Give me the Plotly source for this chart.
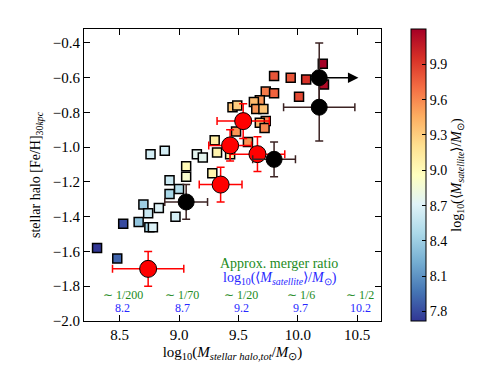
import plotly.graph_objects as go

# individual haloes (squares), coloured by satellite mass
sq_x = [10.21, 10.22, 9.80, 9.94, 10.07, 10.01, 9.73, 9.80, 9.68, 9.63, 9.65, 9.71, 9.73, 9.68,
        9.72, 9.58, 9.45, 9.49, 9.48, 9.30, 9.32, 9.43, 9.15, 9.20, 9.06, 9.06, 9.28, 8.76,
        8.88, 8.92, 9.00, 8.92, 8.70, 8.74, 8.83, 8.97, 8.66, 8.75, 8.78, 8.53, 8.31, 8.48]
sq_y = [-0.52, -0.64, -0.59, -0.60, -0.61, -0.71, -0.68, -0.69, -0.73, -0.74, -0.78, -0.78, -0.85, -0.86,
        -0.89, -0.97, -0.77, -0.76, -0.91, -0.96, -1.03, -1.04, -1.04, -1.06, -1.11, -1.17, -1.15, -1.04,
        -1.02, -1.19, -1.24, -1.27, -1.33, -1.38, -1.35, -1.40, -1.43, -1.46, -1.46, -1.44, -1.58, -1.64]
sq_c = [10.20, 10.15, 9.80, 9.80, 9.95, 9.85, 9.65, 9.75, 9.55, 9.40, 9.55, 9.35, 9.60, 9.40,
        9.60, 9.55, 9.35, 9.30, 9.55, 9.10, 9.05, 9.10, 8.75, 8.75, 9.00, 8.90, 9.05, 8.65,
        8.65, 8.60, 8.50, 8.45, 8.40, 8.60, 8.70, 8.65, 8.35, 8.45, 8.70, 7.80, 7.72, 7.90]

# red points with errors
red_x = [9.54, 9.43, 9.66, 9.35, 8.74]
red_y = [-0.85, -0.99, -1.04, -1.215, -1.70]
red_xerr = [0.22, 0.18, 0.23, 0.18, 0.30]
red_yerr = [0.10, 0.09, 0.10, 0.10, 0.10]

# black points with errors
blk_x = [10.18, 10.18, 9.80, 9.06]
blk_y = [-0.60, -0.77, -1.07, -1.315]
blk_xerr = [0.0, 0.30, 0.18, 0.18]
blk_yerr = [0.20, 0.195, 0.10, 0.10]
# lower limit arrow on the first black point
arrow_len = [0.33]

# merger ratio labels
ratio_x = [8.5, 9.0, 9.5, 10.0, 10.5]
ratio_txt = ["∼ 1/200", "∼ 1/70", "∼ 1/20", "∼ 1/6", "∼ 1/2"]
sat_txt = ["8.2", "8.7", "9.2", "9.7", "10.2"]

cb_ticks = [7.8, 8.1, 8.4, 8.7, 9.0, 9.3, 9.6, 9.9]

FONT = "Liberation Serif"
GREEN = "rgb(34,139,34)"
BLUE = "rgb(40,40,255)"

fig = go.Figure()

fig.add_trace(go.Scatter(
    x=sq_x, y=sq_y, mode="markers",
    marker=dict(symbol="square", size=9, color=sq_c, colorscale="RdYlBu_r",
                cmin=7.72, cmax=10.2, line=dict(color="black", width=1.5),
                colorbar=dict(x=1.066, xanchor="left", y=0.5, len=1, ypad=0, thickness=15,
                              outlinecolor="black", outlinewidth=1,
                              tickvals=cb_ticks, ticktext=[f"{v:.1f}" for v in cb_ticks],
                              ticks="inside", ticklen=4, tickcolor="black",
                              tickfont=dict(family=FONT, size=14, color="black"),
                              title=dict(text="log<sub>10</sub>(⟨<i>M</i><sub><i>satellite</i></sub>⟩/<i>M</i><sub>⊙</sub>)",
                                         side="right", font=dict(family=FONT, size=14, color="black")))),
    showlegend=False))

fig.add_trace(go.Scatter(
    x=red_x, y=red_y, mode="markers",
    marker=dict(symbol="circle", size=17, color="red", line=dict(color="black", width=1)),
    error_x=dict(type="data", array=red_xerr, color="red", thickness=1.5, width=4),
    error_y=dict(type="data", array=red_yerr, color="red", thickness=1.5, width=4),
    showlegend=False))

fig.add_trace(go.Scatter(
    x=blk_x, y=blk_y, mode="markers",
    marker=dict(symbol="circle", size=16, color="black", line=dict(color="black", width=1)),
    error_x=dict(type="data", array=blk_xerr, color="rgb(60,35,35)", thickness=1.5, width=4),
    error_y=dict(type="data", array=blk_yerr, color="rgb(60,35,35)", thickness=1.5, width=4),
    showlegend=False))

fig.add_annotation(x=blk_x[0] + arrow_len[0], y=blk_y[0], ax=blk_x[0], ay=blk_y[0],
                   xref="x", yref="y", axref="x", ayref="y", text="", showarrow=True,
                   arrowhead=2, arrowsize=1.4, arrowwidth=1.5, arrowcolor="black")

for xv, rt, st in zip(ratio_x, ratio_txt, sat_txt):
    fig.add_annotation(x=xv + 0.025, y=-1.853, text=rt, showarrow=False,
                       font=dict(family=FONT, size=12, color=GREEN))
    fig.add_annotation(x=xv + 0.025, y=-1.927, text=st, showarrow=False,
                       font=dict(family=FONT, size=12, color=BLUE))

fig.add_annotation(x=9.84, y=-1.667, text="Approx. merger ratio", showarrow=False,
                   font=dict(family=FONT, size=14, color=GREEN))
fig.add_annotation(x=9.85, y=-1.758,
                   text="log<sub>10</sub>(⟨<i>M</i><sub><i>satellite</i></sub>⟩/<i>M</i><sub>⊙</sub>)",
                   showarrow=False, font=dict(family=FONT, size=14, color=BLUE))

axis_common = dict(showline=True, linecolor="black", linewidth=1, mirror="ticks",
                   ticks="inside", ticklen=6, tickcolor="black", showgrid=False, zeroline=False,
                   tickfont=dict(family=FONT, size=15, color="black"))

fig.update_layout(
    width=480, height=373,
    margin=dict(l=76, r=102, t=21, b=60),
    paper_bgcolor="white", plot_bgcolor="white",
    xaxis=dict(range=[8.2, 10.7], tickvals=[8.5, 9.0, 9.5, 10.0, 10.5], tickformat=".1f",
               title=dict(text="log<sub>10</sub>(<i>M</i><sub><i>stellar halo,tot</i></sub>/<i>M</i><sub>⊙</sub>)",
                          font=dict(family=FONT, size=15, color="black"), standoff=4),
               **axis_common),
    yaxis=dict(range=[-2.0, -0.32], tickvals=[-2.0, -1.8, -1.6, -1.4, -1.2, -1.0, -0.8, -0.6, -0.4],
               tickformat=".1f",
               title=dict(text="stellar halo [Fe/H]<sub>30<i>kpc</i></sub>",
                          font=dict(family=FONT, size=14, color="black"), standoff=8),
               **axis_common),
)

fig.write_html("out.html")
